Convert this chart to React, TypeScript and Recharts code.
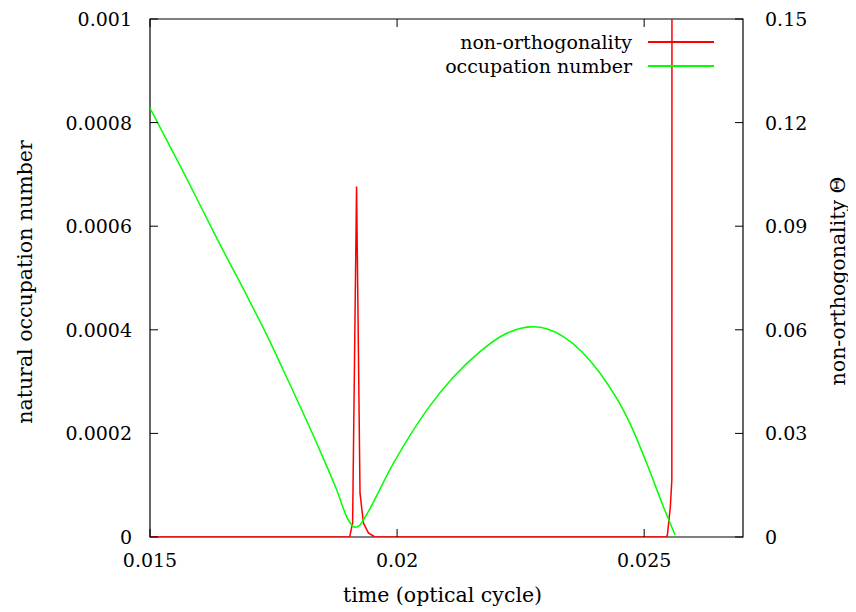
import { LineChart, Line, XAxis, YAxis, Legend, ReferenceArea } from 'recharts'

const FONT = '"DejaVu Serif", serif'

// occupation number (left axis)
const occTime = [0.015, 0.015674, 0.01635, 0.017024, 0.017394, 0.017698, 0.018374, 0.018779, 0.019013, 0.019149, 0.01925, 0.019317, 0.019924, 0.0206, 0.021139, 0.021679, 0.02215, 0.022758, 0.023365, 0.024108, 0.024715, 0.025053, 0.025389, 0.025626]
const occValue = [0.000828, 0.000705, 0.000577, 0.000454, 0.000384, 0.000322, 0.000181, 0.0000907, 0.0000328, 0.0000187, 0.0000232, 0.0000328, 0.000142, 0.000245, 0.000309, 0.000358, 0.00039, 0.000406, 0.000387, 0.000316, 0.000219, 0.000142, 0.0000585, 0.000004]

// non-orthogonality (right axis)
const thetaTime = [0.015, 0.01904, 0.0191, 0.01918, 0.01925, 0.01932, 0.01942, 0.01955, 0.02545, 0.02547, 0.02553, 0.02556, 0.025565]
const thetaValue = [0, 0, 0.004, 0.1015, 0.0127, 0.004, 0.0012, 0, 0, 0.0006, 0.0088, 0.0165, 0.3]

const xTicks = [0.015, 0.02, 0.025]
const leftTicks = [0, 0.0002, 0.0004, 0.0006, 0.0008, 0.001]
const rightTicks = [0, 0.03, 0.06, 0.09, 0.12, 0.15]

const occData = occTime.map((t, i) => ({ t, v: occValue[i] }))
const thetaData = thetaTime.map((t, i) => ({ t, v: thetaValue[i] }))

const legendItems = [
    { name: 'non-orthogonality', color: '#ff0000' },
    { name: 'occupation number', color: '#00ff00' },
]

const TICK = 8
const PLOT_TOP = 11
const textStyle = { fontFamily: FONT, fontSize: 19, fill: '#000' }
const titleStyle = { fontFamily: FONT, fontSize: 20.5, fill: '#000' }

const LeftTick = ({ x, y, payload }: any) => {
    const ax = x + 18
    return (<g>
        <line x1={ax} x2={ax + TICK} y1={y} y2={y} stroke="#000" />
        <text x={x} y={y} textAnchor="end" dominantBaseline="central" style={textStyle}>{String(payload.value)}</text>
    </g>)
}

const RightTick = ({ x, y, payload }: any) => {
    const ax = x - 22
    return (<g>
        <line x1={ax - TICK} x2={ax} y1={y} y2={y} stroke="#000" />
        <text x={x} y={y} textAnchor="start" dominantBaseline="central" style={textStyle}>{String(payload.value)}</text>
    </g>)
}

const BottomTick = ({ x, y, payload }: any) => {
    const ay = y - 14
    return (<g>
        <line x1={x} x2={x} y1={ay - TICK} y2={ay} stroke="#000" />
        <line x1={x} x2={x} y1={PLOT_TOP} y2={PLOT_TOP + TICK} stroke="#000" />
        <text x={x} y={ay + 23} textAnchor="middle" dominantBaseline="central" style={textStyle}>{String(payload.value)}</text>
    </g>)
}

const LegendBox = () => (
    <div style={{ fontFamily: FONT, fontSize: 19, color: '#000' }}>
        {legendItems.map(s => (
            <div key={s.name} style={{ display: 'flex', alignItems: 'center', justifyContent: 'flex-end', height: 24 }}>
                <span>{s.name}</span>
                <span style={{ display: 'inline-block', width: 66, borderTop: `2px solid ${s.color}`, marginLeft: 16 }} />
            </div>
        ))}
    </div>
)

export default function App() {
    return (
        <LineChart width={848} height={600} margin={{ top: PLOT_TOP, right: 0, bottom: 0, left: 0 }}>
            <XAxis type="number" dataKey="t" domain={[0.015, 0.027]} ticks={xTicks} height={71}
                allowDataOverflow axisLine={false} tickLine={false} tickSize={0} tickMargin={14} tick={<BottomTick />}
                label={(p: any) => (<text x={p.viewBox.x + p.viewBox.width / 2 - 4} y={p.viewBox.y + 58} textAnchor="middle"
                    dominantBaseline="central" style={titleStyle}>time (optical cycle)</text>)} />
            <YAxis yAxisId="left" type="number" domain={[0, 0.001]} ticks={leftTicks} width={142}
                allowDataOverflow axisLine={false} tickLine={false} tickSize={0} tickMargin={18} tick={<LeftTick />}
                label={(p: any) => {
                    const cx = p.viewBox.x + 17, cy = p.viewBox.y + p.viewBox.height / 2 + 4
                    return <text x={cx} y={cy} transform={`rotate(-90 ${cx} ${cy})`} textAnchor="middle"
                        dominantBaseline="central" style={titleStyle}>natural occupation number</text>
                }} />
            <YAxis yAxisId="right" orientation="right" type="number" domain={[0, 0.15]} ticks={rightTicks} width={113}
                allowDataOverflow axisLine={false} tickLine={false} tickSize={0} tickMargin={22} tick={<RightTick />}
                label={(p: any) => {
                    const cx = p.viewBox.x + 95, cy = p.viewBox.y + p.viewBox.height / 2 + 3
                    return <text x={cx} y={cy} transform={`rotate(-90 ${cx} ${cy})`} textAnchor="middle"
                        dominantBaseline="central" style={titleStyle}>non-orthogonality Θ</text>
                }} />
            <Line yAxisId="right" data={thetaData} dataKey="v" type="linear" stroke="#ff0000" strokeWidth={1.5}
                dot={false} activeDot={false} isAnimationActive={false} />
            <Line yAxisId="left" data={occData} dataKey="v" type="monotone" stroke="#00ff00" strokeWidth={1.5}
                dot={false} activeDot={false} isAnimationActive={false} />
            <ReferenceArea yAxisId="left" x1={0.015} x2={0.027} y1={0} y2={0.001} fill="none" fillOpacity={0}
                stroke="#000" strokeWidth={1.2} />
            <Legend layout="vertical" align="center" verticalAlign="middle" content={<LegendBox />}
                wrapperStyle={{ position: 'absolute', left: 392, top: 22, width: 314 }} />
        </LineChart>
    )
}
